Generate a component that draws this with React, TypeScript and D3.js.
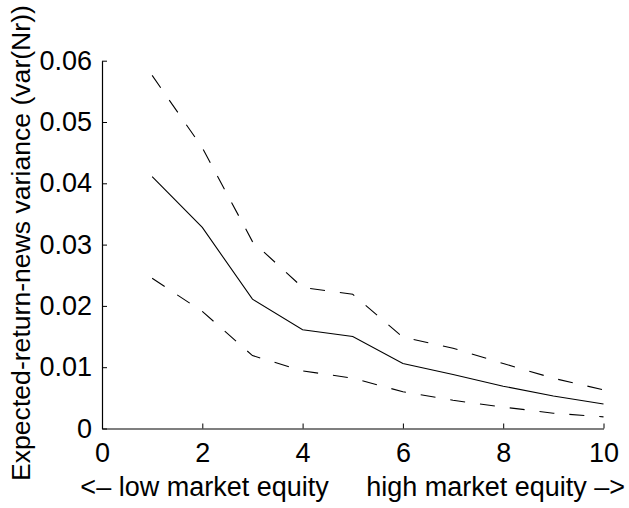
import React, { useEffect, useRef } from 'react';
import * as d3 from 'd3';

const portfolios = [1, 2, 3, 4, 5, 6, 7, 8, 9, 10];
const estimate = [0.0411, 0.0328, 0.0211, 0.0161, 0.015, 0.0106, 0.0088, 0.0069, 0.0053, 0.004];
const upperBand = [0.0576, 0.0458, 0.0305, 0.023, 0.0219, 0.0149, 0.0131, 0.0106, 0.0082, 0.0063];
const lowerBand = [0.0245, 0.0191, 0.0119, 0.0094, 0.0082, 0.006, 0.0046, 0.0035, 0.0025, 0.0019];
const xTicks = [0, 2, 4, 6, 8, 10];
const yTicks = [0, 0.01, 0.02, 0.03, 0.04, 0.05, 0.06];

const App: React.FC = () => {
  const chartRef = useRef<SVGSVGElement>(null);

  useEffect(() => {
    if (!chartRef.current) return;

    const width = 629;
    const height = 508;
    const margin = { top: 60.7, right: 25.5, bottom: 79.5, left: 102 };
    const font = '"Liberation Sans", Arial, Helvetica, sans-serif';

    const root = d3.select(chartRef.current);
    root.selectAll('*').remove();

    const svg = root
      .append('g')
      .attr('transform', `translate(${margin.left},${margin.top})`);

    const innerWidth = width - margin.left - margin.right;
    const innerHeight = height - margin.top - margin.bottom;

    const xScale = d3.scaleLinear().domain([0, 10]).range([0, innerWidth]);
    const yScale = d3.scaleLinear().domain([0, 0.06]).range([innerHeight, 0]);

    const line = d3.line<number>()
      .x((_, i) => xScale(portfolios[i]))
      .y(d => yScale(d));

    // Series: estimate with dashed bands
    const series = [
      { values: upperBand, dash: '15,15' },
      { values: estimate, dash: null },
      { values: lowerBand, dash: '15,15' },
    ];
    series.forEach(s => {
      svg.append('path')
        .datum(s.values)
        .attr('d', line)
        .attr('fill', 'none')
        .attr('stroke', '#000')
        .attr('stroke-width', 1.1)
        .attr('stroke-dasharray', s.dash);
    });

    // X axis (ticks point inward)
    const xAxis = svg.append('g')
      .attr('transform', `translate(0,${innerHeight})`)
      .call(d3.axisBottom(xScale).tickValues(xTicks).tickSize(-5).tickPadding(14).tickSizeOuter(0).tickFormat(d3.format('d')));
    xAxis.select('.domain').attr('stroke-width', 1.2);
    xAxis.selectAll('text')
      .style('font-family', font)
      .style('font-size', '27px')
      .attr('fill', '#000');

    // Y axis
    const yAxis = svg.append('g')
      .call(d3.axisLeft(yScale).tickValues(yTicks).tickSize(-5).tickPadding(10).tickSizeOuter(0)
        .tickFormat(d => (d === 0 ? '0' : d3.format('.2f')(d as number))));
    yAxis.select('.domain').attr('stroke-width', 1.2);
    yAxis.selectAll('text')
      .style('font-family', font)
      .style('font-size', '27px')
      .attr('fill', '#000');

    // Axis titles
    root.append('text')
      .attr('x', margin.left + innerWidth / 2)
      .attr('y', 496)
      .attr('text-anchor', 'middle')
      .style('font-family', font)
      .style('font-size', '27px')
      .style('white-space', 'pre')
      .attr('fill', '#000')
      .text('<\u2013 low market equity     high market equity \u2013>');

    root.append('text')
      .attr('transform', 'translate(30,481) rotate(-90)')
      .attr('text-anchor', 'start')
      .style('font-family', font)
      .style('font-size', '26.6px')
      .attr('fill', '#000')
      .text('Expected-return-news variance (var(Nr))');
  }, []);

  return (
    <div style={{ position: 'absolute', left: 0, top: 0, background: '#fff' }}>
      <svg ref={chartRef} width={629} height={508} />
    </div>
  );
};

export default App;
